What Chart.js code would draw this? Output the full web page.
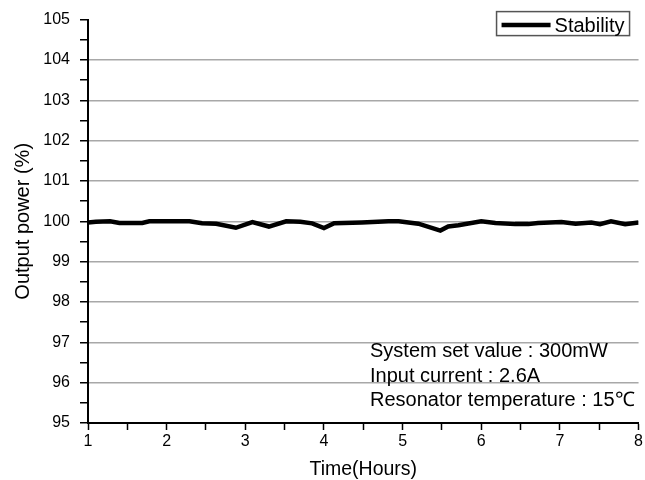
<!DOCTYPE html>
<html>
<head>
<meta charset="utf-8">
<script src="https://cdn.jsdelivr.net/npm/chart.js@4/dist/chart.umd.min.js"></script>
<style>
  html, body { margin: 0; padding: 0; background: #fff; }
  #wrap { width: 645px; height: 480px; }
</style>
</head>
<body>
<div id="wrap"><canvas id="myChart" width="645" height="480"></canvas></div>
<script>
// 데이터
var hours = [1.0, 1.1, 1.28, 1.4, 1.69, 1.78, 2.0, 2.29, 2.45, 2.63, 2.88, 3.09, 3.3, 3.52, 3.7, 3.85, 4.0, 4.13, 4.48,
             4.82, 4.95, 5.2, 5.48, 5.58, 5.71, 6.0, 6.18, 6.43, 6.6, 6.72, 7.02, 7.2, 7.4, 7.51, 7.65, 7.83, 8.0];
var power = [99.97, 99.99, 100.0, 99.96, 99.96, 100.0, 100.0, 100.0, 99.95, 99.94, 99.84, 99.98, 99.87, 100.0, 99.99, 99.95, 99.83, 99.95, 99.97,
             100.0, 100.0, 99.94, 99.77, 99.87, 99.9, 100.0, 99.96, 99.93, 99.93, 99.96, 99.98, 99.94, 99.97, 99.93, 100.0, 99.93, 99.97];
var seriesName = 'Stability';
var xTicks = [1, 8];   // min, max
var yTicks = [95, 105];
var notes = ['System set value : 300mW', 'Input current : 2.6A', 'Resonator temperature : 15\u2103'];

var points = [];
for (var i = 0; i < hours.length; i++) {
  points.push({ x: hours[i], y: power[i] });
}

Chart.defaults.font.family = '"Liberation Sans", Arial, sans-serif';
Chart.defaults.color = '#000';

// 범례 박스 + 설명 텍스트
var extras = {
  id: 'extras',
  afterDraw: function(chart) {
    var ctx = chart.ctx;
    var area = chart.chartArea;
    var ds = chart.data.datasets[0];
    ctx.save();
    // legend box
    var bx = area.right - 142, by = area.top - 8, bw = 133, bh = 24;
    ctx.strokeStyle = '#555';
    ctx.lineWidth = 1.5;
    ctx.strokeRect(bx, by, bw, bh);
    ctx.strokeStyle = ds.borderColor;
    ctx.lineWidth = ds.borderWidth;
    ctx.beginPath();
    ctx.moveTo(bx + 5, by + 13.5);
    ctx.lineTo(bx + 54, by + 13.5);
    ctx.stroke();
    ctx.fillStyle = '#000';
    ctx.font = '20px "Liberation Sans", Arial, sans-serif';
    ctx.textBaseline = 'alphabetic';
    ctx.fillText(ds.label, bx + 58, by + 20.5);
    // notes
    var nx = area.left + 282;
    var ny = area.bottom - 66;
    for (var k = 0; k < notes.length; k++) {
      ctx.fillText(notes[k], nx, ny + k * 24.5);
    }
    ctx.restore();
  }
};

var myCt = document.getElementById('myChart');
new Chart(myCt, {
  type: 'line',
  data: {
    datasets: [{
      label: seriesName,
      data: points,
      borderColor: '#000',
      backgroundColor: '#000',
      borderWidth: 4.5,
      pointRadius: 0,
      tension: 0,
      fill: false
    }]
  },
  options: {
    responsive: false,
    animation: false,
    layout: { padding: { top: 18, right: 4, left: 0, bottom: 0 } },
    plugins: { legend: { display: false }, tooltip: { enabled: false } },
    scales: {
      x: {
        type: 'linear',
        min: xTicks[0],
        max: xTicks[1],
        afterFit: function(s) { s.height = 57; },
        border: { color: '#000', width: 2 },
        grid: { drawOnChartArea: false, tickColor: '#000', tickLength: 7, tickWidth: 1.5 },
        ticks: {
          stepSize: 0.5, autoSkip: false, maxRotation: 0, padding: 2,
          font: { size: 16 },
          callback: function(v) { return Number.isInteger(v) ? v : ''; }
        },
        title: { display: true, text: 'Time(Hours)', font: { size: 19.5 }, padding: { top: 0, bottom: -1 } }
      },
      y: {
        min: yTicks[0],
        max: yTicks[1],
        afterFit: function(s) { s.width = 88; },
        border: { color: '#000', width: 2 },
        grid: {
          tickColor: '#000', tickLength: 8, tickWidth: 1.5, lineWidth: 1.5,
          color: function(c) {
            var v = c.tick ? c.tick.value : 0;
            return (Number.isInteger(v) && v > yTicks[0] && v < yTicks[1]) ? '#a8a8a8' : 'rgba(0,0,0,0)';
          }
        },
        ticks: {
          stepSize: 0.5, autoSkip: false, padding: 10,
          font: { size: 16 },
          callback: function(v) { return Number.isInteger(v) ? v : ''; }
        },
        title: { display: true, text: 'Output power (%)', font: { size: 20 }, padding: { top: 11, bottom: 0 } }
      }
    }
  },
  plugins: [extras]
});
</script>
</body>
</html>
